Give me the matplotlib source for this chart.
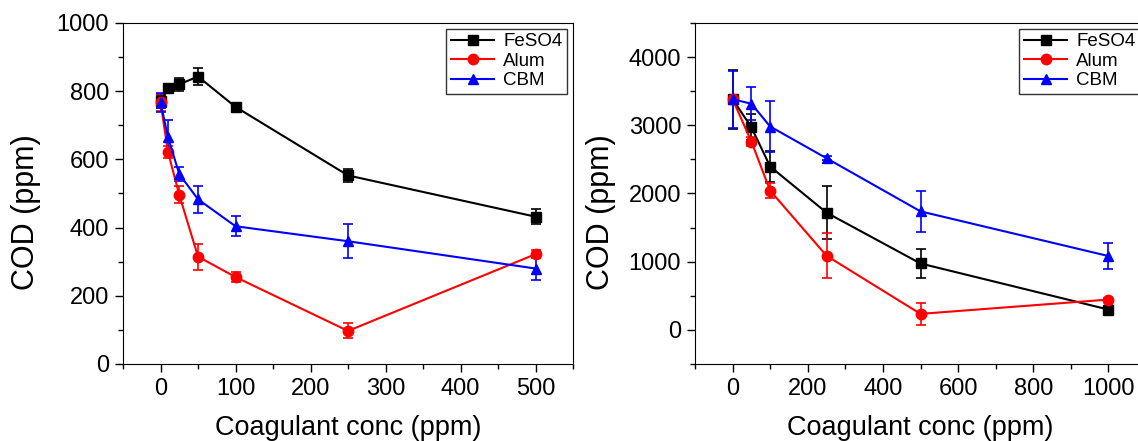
import matplotlib.pyplot as plt
from matplotlib.ticker import MultipleLocator

# left panel data
conc1 = [0, 10, 25, 50, 100, 250, 500]
feso4_1 = [770, 808, 820, 843, 754, 553, 432]
feso4_1_err = [20, 10, 18, 25, 12, 20, 22]
alum_1 = [768, 622, 496, 315, 255, 97, 322]
alum_1_err = [25, 18, 25, 38, 15, 22, 12]
cbm_1 = [768, 665, 557, 483, 404, 360, 280]
cbm_1_err = [28, 50, 20, 40, 30, 50, 35]

# right panel data
conc2 = [0, 50, 100, 250, 500, 1000]
feso4_2 = [3383, 2972, 2395, 1719, 974, 298]
feso4_2_err = [430, 190, 225, 385, 213, 20]
alum_2 = [3383, 2762, 2042, 1087, 235, 445]
alum_2_err = [40, 60, 107, 330, 157, 20]
cbm_2 = [3383, 3316, 2982, 2517, 1738, 1083]
cbm_2_err = [420, 240, 377, 30, 300, 190]

plt.rcParams['font.family'] = ['Liberation Sans', 'DejaVu Sans']

fig = plt.figure(figsize=(11.38, 4.41), dpi=100)
W, H = 1138, 441
ax1 = fig.add_axes([123 / W, 1 - 364 / H, (573 - 123) / W, (364 - 23) / H])
ax2 = fig.add_axes([695 / W, 1 - 364 / H, (1146 - 695) / W, (364 - 23) / H])

series1 = [(feso4_1, feso4_1_err, 'black', 's', 'FeSO4'),
           (alum_1, alum_1_err, 'red', 'o', 'Alum'),
           (cbm_1, cbm_1_err, 'blue', '^', 'CBM')]
series2 = [(feso4_2, feso4_2_err, 'black', 's', 'FeSO4'),
           (alum_2, alum_2_err, 'red', 'o', 'Alum'),
           (cbm_2, cbm_2_err, 'blue', '^', 'CBM')]

for ax, x, series in [(ax1, conc1, series1), (ax2, conc2, series2)]:
    lines = []
    for y, e, c, m, lab in series:
        cont = ax.errorbar(x, y, yerr=e, color=c, marker=m, markersize=7.5, lw=1.5,
                           capsize=3.5, elinewidth=1.2, capthick=1.2, label=lab)
        lines.append(cont[0])
    ax.tick_params(which='both', direction='out', labelsize=17, width=1)
    ax.tick_params(which='major', length=6, pad=4)
    ax.tick_params(which='minor', length=3.5)
    ax.set_xlabel('Coagulant conc (ppm)', fontsize=19.5)
    ax.set_ylabel('COD (ppm)', fontsize=22)
    ax.xaxis.set_label_coords(0.5, -0.15)
    # legend shows only line + marker, no error bars
    leg = ax.legend(lines, [s[4] for s in series], loc='upper right', fontsize=13.5,
                    frameon=True, fancybox=False, edgecolor='black',
                    handlelength=2.3, borderpad=0.25, labelspacing=0.12,
                    handletextpad=0.5, borderaxespad=0.3)
    leg.get_frame().set_linewidth(1.0)

ax1.yaxis.set_label_coords(-0.182, 0.446)
ax2.yaxis.set_label_coords(-0.175, 0.446)

ax1.set_xlim(-50, 550)
ax1.set_ylim(0, 1000)
ax1.xaxis.set_major_locator(MultipleLocator(100))
ax1.xaxis.set_minor_locator(MultipleLocator(50))
ax1.yaxis.set_major_locator(MultipleLocator(200))
ax1.yaxis.set_minor_locator(MultipleLocator(100))

ax2.set_xlim(-100, 1100)
ax2.set_ylim(-500, 4500)
ax2.xaxis.set_major_locator(MultipleLocator(200))
ax2.xaxis.set_minor_locator(MultipleLocator(100))
ax2.yaxis.set_major_locator(MultipleLocator(1000))
ax2.yaxis.set_minor_locator(MultipleLocator(500))
ax2.set_xticks([0, 200, 400, 600, 800, 1000])
ax2.set_yticks([0, 1000, 2000, 3000, 4000])

fig.savefig('out.png', dpi=100)
